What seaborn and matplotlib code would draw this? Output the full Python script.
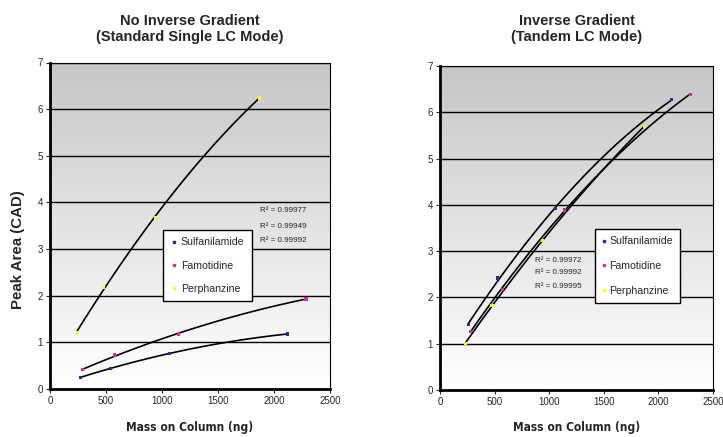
import numpy as np
import pandas as pd
import matplotlib
matplotlib.use("Agg")
import matplotlib.pyplot as plt
from matplotlib.lines import Line2D
from matplotlib import font_manager
import seaborn as sns

sns.set_style("white")
plt.rcParams['font.family'] = ['Liberation Sans', 'DejaVu Sans']

compounds = ["Sulfanilamide", "Famotidine", "Perphanzine"]
colors = {"Sulfanilamide": "#2a2a90", "Famotidine": "#cc3399", "Perphanzine": "#ffff00"}

# Left: No inverse gradient
left_sulf_x = [273, 537, 1063, 2121]
left_sulf_y = [0.25, 0.44, 0.76, 1.18]
left_famo_x = [294, 578, 1145, 2286]
left_famo_y = [0.41, 0.73, 1.18, 1.93]
left_perp_x = [244, 476, 940, 1869]
left_perp_y = [1.22, 2.17, 3.68, 6.24]
left_r2 = ["R² = 0.99977", "R² = 0.99949", "R² = 0.99992"]

# Right: Inverse gradient
right_sulf_x = [263, 528, 1060, 2122]
right_sulf_y = [1.41, 2.42, 3.92, 6.27]
right_famo_x = [278, 571, 1142, 2290]
right_famo_y = [1.27, 2.18, 3.89, 6.39]
right_perp_x = [232, 476, 940, 1871]
right_perp_y = [1.01, 1.82, 3.23, 5.70]
right_r2 = ["R² = 0.99972", "R² = 0.99992", "R² = 0.99995"]

title_lines = [["No Inverse Gradient", "(Standard Single LC Mode)"],
               ["Inverse Gradient", "(Tandem LC Mode)"]]
xlabel = "Mass on Column (ng)"
ylabel = "Peak Area (CAD)"
xticks = [0, 500, 1000, 1500, 2000, 2500]
yticks = [0, 1, 2, 3, 4, 5, 6, 7]

names = {f.name for f in font_manager.fontManager.ttflist}
if "Liberation Sans Narrow" in names:
    xl_family, xl_stretch, xl_size = "Liberation Sans Narrow", "normal", 10.5
else:
    xl_family, xl_stretch, xl_size = "DejaVu Sans", "condensed", 8.6


def make_df(sx, sy, fx, fy, px, py):
    rows = []
    for name, xs, ys in [("Sulfanilamide", sx, sy), ("Famotidine", fx, fy), ("Perphanzine", px, py)]:
        for x, y in zip(xs, ys):
            rows.append({"mass": x, "area": y, "compound": name})
    return pd.DataFrame(rows)


dfL = make_df(left_sulf_x, left_sulf_y, left_famo_x, left_famo_y, left_perp_x, left_perp_y)
dfR = make_df(right_sulf_x, right_sulf_y, right_famo_x, right_famo_y, right_perp_x, right_perp_y)

W, H = 723, 437
fig = plt.figure(figsize=(W / 100, H / 100), dpi=100)
# axes boxes in pixels: (left, top, right, bottom)
boxes = [(50, 62.5, 330, 389), (440, 66, 713, 390)]
axes = []
for (l, t, r, b) in boxes:
    axes.append(fig.add_axes([l / W, 1 - b / H, (r - l) / W, (b - t) / H]))

grad = np.linspace(0.78, 1.0, 256).reshape(-1, 1)

# legend: (left, top) px, labelspacing, borderpad, handlelength, handletextpad
leg_specs = [((163, 230), 1.25, 0.7, 0.6, 0.4), ((595, 229), 1.4, 0.7, 0.3, 0.35)]

for i, (ax, df) in enumerate(zip(axes, [dfL, dfR])):
    l, t, r, b = boxes[i]
    ax.imshow(np.dstack([grad, grad, grad]), extent=[0, 2500, 0, 7], origin="upper",
              aspect="auto", zorder=0)
    ax.set_xlim(0, 2500)
    ax.set_ylim(0, 7)
    for y in yticks[1:]:
        ax.axhline(y, color="black", lw=1.0, zorder=1)
    for name in compounds:
        sub = df[df["compound"] == name]
        sns.regplot(data=sub, x="mass", y="area", order=2, ci=None, scatter=False,
                    truncate=True, ax=ax, line_kws={"color": "black", "lw": 1.2, "zorder": 2})
    sns.scatterplot(data=df, x="mass", y="area", hue="compound", palette=colors,
                    marker="s", s=5, linewidth=0, ax=ax, zorder=3, legend=False)
    ax.set_xticks(xticks)
    ax.set_yticks(yticks)
    ax.tick_params(axis="both", labelsize=7, length=3, width=0.8, direction="out", pad=2,
                   bottom=True, left=True)
    for s in ["top", "right"]:
        ax.spines[s].set_linewidth(0.8)
        ax.spines[s].set_color("black")
    for s in ["left", "bottom"]:
        ax.spines[s].set_linewidth(2.0)
        ax.spines[s].set_color("black")
    ax.set_xlabel("")
    ax.set_ylabel("")

    (lx, ly), lsp, bpad, hlen, htp = leg_specs[i]
    handles = [Line2D([], [], marker="s", color=colors[c], ls="", markersize=2) for c in compounds]
    leg = ax.legend(handles, compounds, fontsize=7.6, frameon=True, fancybox=False,
                    edgecolor="black", framealpha=1, handletextpad=htp, handlelength=hlen,
                    labelspacing=lsp, borderpad=bpad, borderaxespad=0, loc="upper left",
                    bbox_to_anchor=((lx - l) / (r - l), (b - ly) / (b - t)))
    leg.get_frame().set_linewidth(1.0)
    leg.set_zorder(5)

    cx = (l + r) / 2
    fig.text(cx / W, 1 - 21 / H, title_lines[i][0], fontsize=10.5, fontweight="bold",
             ha="center", va="center")
    fig.text(cx / W, 1 - 37 / H, title_lines[i][1], fontsize=10.5, fontweight="bold",
             ha="center", va="center")
    fig.text(cx / W, 1 - 428 / H, xlabel, fontsize=xl_size, fontweight="bold",
             family=[xl_family, "Liberation Sans"], fontstretch=xl_stretch,
             ha="center", va="center")

# R² labels
for (xpx, ys, txts) in [(260, [211, 226, 240], left_r2), (535, [261, 273, 286], right_r2)]:
    for ypx, t in zip(ys, txts):
        fig.text(xpx / W, 1 - ypx / H, t, fontsize=5.8, va="center", ha="left", zorder=6)

fig.text(18 / W, 1 - 250 / H, ylabel, rotation=90, fontsize=10.8, fontweight="bold",
         va="center", ha="center")

fig.savefig("out.png", dpi=100)
